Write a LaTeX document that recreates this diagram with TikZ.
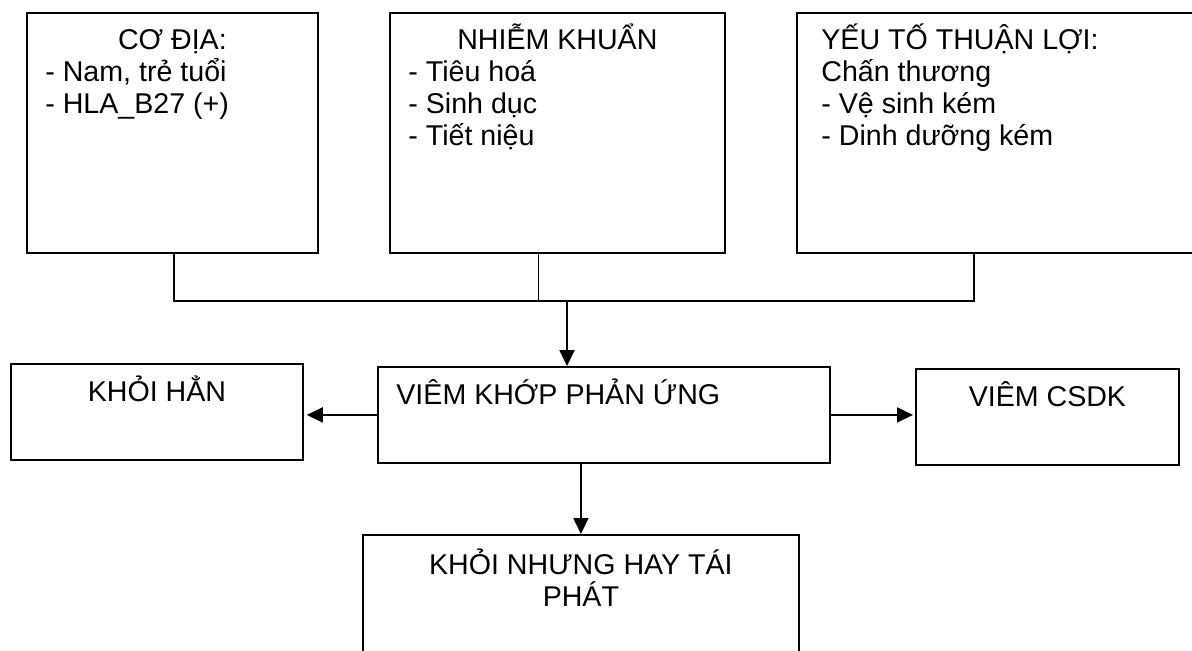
\documentclass[tikz,border=0pt]{standalone}
\usepackage{fontspec}
\setmainfont{Liberation Sans}
\usetikzlibrary{arrows.meta}

\begin{document}
\begin{tikzpicture}[
  x=0.5pt, y=-0.5pt,
  box/.style={draw, line width=0.9pt, inner sep=0pt, anchor=north west},
  lbl/.style={inner sep=0pt, font=\fontsize{14.3pt}{16pt}\selectfont,
              align=left, anchor=base west},
  ctr/.style={inner sep=0pt, font=\fontsize{14.3pt}{16pt}\selectfont,
              align=center, anchor=base},
  wire/.style={line width=0.9pt},
  arr/.style={-{Triangle[length=8pt, width=7.5pt]}, line width=0.9pt}
]
\clip (0,0) rectangle (1192,650);

% top row (labels anchored on their last line)
\node[box, minimum width=145.5pt, minimum height=120pt] (coDia) at (26,12) {};
\node[box, minimum width=167.5pt, minimum height=120pt] (nhiemKhuan) at (389,12) {};
\node[box, minimum width=215pt, minimum height=120pt] (thuanLoi) at (796,12) {};

\node[ctr] (coDiaT) at ([shift={(0,37)}]coDia.north) {CƠ ĐỊA:};
\node[lbl] (coDiaL) at ([shift={(19,101)}]coDia.north west)
  {- Nam, trẻ tuổi\\- HLA\_B27 (+)};
\node[ctr] (nhiemKhuanT) at ([shift={(0,37)}]nhiemKhuan.north) {NHIỄM KHUẨN};
\node[lbl] (nhiemKhuanL) at ([shift={(19,133)}]nhiemKhuan.north west)
  {- Tiêu hoá\\- Sinh dục\\- Tiết niệu};
\node[lbl] (thuanLoiL) at ([shift={(25,133)}]thuanLoi.north west)
  {YẾU TỐ THUẬN LỢI:\\Chấn thương\\- Vệ sinh kém\\- Dinh dưỡng kém};

% middle row
\node[box, minimum width=146pt, minimum height=48pt] (khoiHan) at (10,363) {};
\node[box, minimum width=226pt, minimum height=48pt] (viemKhop) at (377,366) {};
\node[box, minimum width=131.5pt, minimum height=48pt] (viemCSDK) at (915,368) {};

\node[ctr] (khoiHanT) at ([shift={(0,38)}]khoiHan.north) {KHỎI HẲN};
\node[lbl] (viemKhopT) at ([shift={(19,38)}]viemKhop.north west) {VIÊM KHỚP PHẢN ỨNG};
\node[ctr] (viemCSDKT) at ([shift={(0,38)}]viemCSDK.north) {VIÊM CSDK};

% bottom
\node[box, minimum width=218pt, minimum height=80pt] (khoiNhung) at (362,534) {};
\node[ctr] (khoiNhungT) at ([shift={(0,72)}]khoiNhung.north)
  {KHỎI NHƯNG HAY TÁI\\PHÁT};

% connectors
\coordinate (busL) at (174,301);
\coordinate (busM) at (538,301);
\coordinate (busR) at (974,301);
\coordinate (busA) at (567,301);

\draw[wire] (busL |- coDia.south) -- (busL) -- (busR) -- (busR |- thuanLoi.south);
\draw[line width=0.5pt] (busM |- nhiemKhuan.south) -- (busM);
\draw[arr] (busA) -- (busA |- viemKhop.north);
\draw[arr, shorten >=1.5pt] (viemKhop.west) -- (viemKhop.west -| khoiHan.east);
\draw[arr, shorten >=1pt] (viemKhop.east) -- (viemKhop.east -| viemCSDK.west);
\draw[arr] (viemKhop.south -| khoiNhung.north) -- (khoiNhung.north);
\end{tikzpicture}
\end{document}
